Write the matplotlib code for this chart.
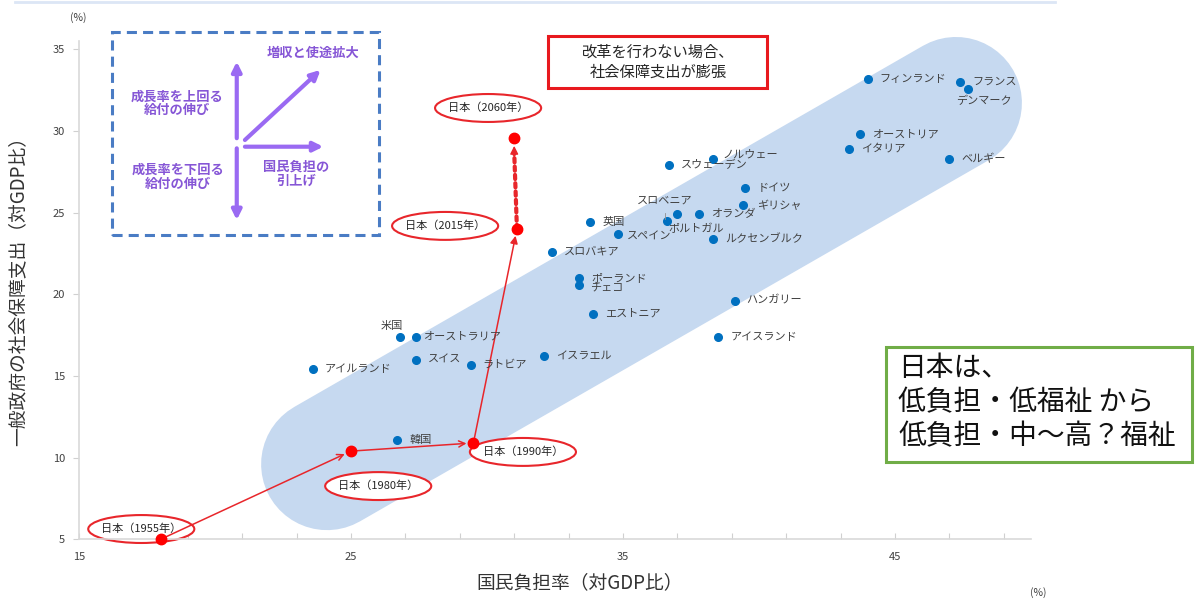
import matplotlib.pyplot as plt
from matplotlib.patches import Ellipse, Rectangle
from matplotlib.lines import Line2D

plt.rcParams['font.family'] = ['Noto Sans CJK JP', 'DejaVu Sans']

# OECD countries: national burden ratio (x) vs social security spending (y), % of GDP
countries = ['フィンランド', 'フランス', 'デンマーク', 'オーストリア', 'イタリア', 'ベルギー',
             'ノルウェー', 'スウェーデン', 'ドイツ', 'ギリシャ', 'スロベニア', 'ポルトガル',
             'オランダ', '英国', 'スペイン', 'ルクセンブルク', 'スロバキア', 'ポーランド',
             'チェコ', 'ハンガリー', 'エストニア', '米国', 'オーストラリア', 'アイスランド',
             'スイス', 'ラトビア', 'イスラエル', 'アイルランド', '韓国']
burden = [44.0, 47.4, 47.7, 43.7, 43.3, 47.0,
          38.3, 36.7, 39.5, 39.4, 36.6, 37.0,
          37.8, 33.8, 34.8, 38.3, 32.4, 33.4,
          33.4, 39.1, 33.9, 26.8, 27.4, 38.5,
          27.4, 29.4, 32.1, 23.6, 26.7]
social = [33.2, 33.0, 32.6, 29.8, 28.9, 28.3,
          28.3, 27.9, 26.5, 25.5, 24.5, 24.9,
          24.9, 24.4, 23.7, 23.4, 22.6, 21.0,
          20.6, 19.6, 18.8, 17.4, 17.4, 17.4,
          16.0, 15.7, 16.2, 15.4, 11.1]

# Japan over time
japan_years = ['1955', '1980', '1990', '2015', '2060']
japan_burden = [18.0, 25.0, 29.5, 31.1, 31.0]
japan_social = [5.0, 10.4, 10.9, 24.0, 29.6]

x_ticks = list(range(15, 51, 2))
x_labeled = [15, 25, 35, 45]
y_ticks = [5, 10, 15, 20, 25, 30, 35]

# label placement (pixels from the dot)
label_offset = {
    'デンマーク': (-12, -12, 'left'),
    'ノルウェー': (10, 4, 'left'),
    'ギリシャ': (14, -1, 'left'),
    'スロベニア': (-2, 20, 'center'),
    'ポルトガル': (-9, -15, 'left'),
    'スペイン': (9, -3, 'left'),
    'チェコ': (11, -4, 'left'),
    '米国': (-8, 11, 'center'),
    'オーストラリア': (7, 0, 'left'),
}
ellipse_center = {
    '1955': (17.29, 5.63),
    '1980': (26.0, 8.26),
    '1990': (31.32, 10.35),
    '2015': (28.46, 24.19),
    '2060': (30.04, 31.41),
}

red = '#e8262b'
blue = '#0070c0'
purple = '#9a6af2'
purple_text = '#8656d6'

fig = plt.figure(figsize=(11.95, 6.04), dpi=100)
ax = fig.add_axes([0.0661, 0.1071, 0.7967, 0.8247])
ax.set_xlim(15, 50)
ax.set_ylim(5, 35.5)

for side in ['top', 'right']:
    ax.spines[side].set_visible(False)
for side in ['left', 'bottom']:
    ax.spines[side].set_color('#d9d9d9')
    ax.spines[side].set_linewidth(1.2)

ax.set_xticks(x_ticks)
ax.set_xticklabels([str(t) if t in x_labeled else '' for t in x_ticks])
ax.set_yticks(y_ticks)
ax.tick_params(axis='x', direction='in', length=4, color='#d0d0d0',
               labelsize=8, labelcolor='#404040', pad=9)
ax.tick_params(axis='y', direction='out', length=4, color='#d0d0d0',
               labelsize=8, labelcolor='#404040', pad=6)

# shaded band along the trend
ax.plot([24.12, 47.24], [9.6, 31.72], lw=95, color='#c6d9f0',
        solid_capstyle='round', zorder=0, clip_on=False)

# country dots and names
ax.plot(burden, social, 'o', ms=5.5, color=blue, zorder=4)
for name, x, y in zip(countries, burden, social):
    dx, dy, ha = label_offset.get(name, (12, 0, 'left'))
    ax.annotate(name, (x, y), xytext=(dx, dy), textcoords='offset pixels',
                ha=ha, va='center', fontsize=8, color='#404040', zorder=5)
ax.plot([36.53, 36.53], [24.6, 24.95], color='#909090', lw=0.6, zorder=4)

# Japan path
for yr in japan_years:
    cx, cy = ellipse_center[yr]
    ax.add_patch(Ellipse((cx, cy), 3.9, 1.71, fc='white', ec=red, lw=1.5,
                         zorder=2, clip_on=False))
    ax.text(cx, cy, '日本（' + yr + '年）', ha='center', va='center',
            fontsize=8, color='#262626', zorder=3)

for i in range(3):
    style = '->' if i < 2 else '-|>'
    ax.annotate('', xy=(japan_burden[i + 1], japan_social[i + 1]),
                xytext=(japan_burden[i], japan_social[i]),
                arrowprops=dict(arrowstyle=style, color=red, lw=1.1,
                                shrinkA=3, shrinkB=5, mutation_scale=11),
                zorder=3)
# projection 2015 -> 2060: dotted shaft plus a solid head
ax.plot(japan_burden[3:5], [japan_social[3], japan_social[4] - 0.9],
        color=red, lw=3, ls=(0, (1, 1)), dash_capstyle='round', zorder=3)
ax.annotate('', xy=(japan_burden[4], japan_social[4]),
            xytext=(japan_burden[4], japan_social[4] - 1.2),
            arrowprops=dict(arrowstyle='-|>', color=red, lw=1,
                            shrinkA=0, shrinkB=6, mutation_scale=12),
            zorder=3)
ax.plot(japan_burden, japan_social, 'o', ms=7.5, color='#ff0000', zorder=4,
        clip_on=False)

# explanation box, top left
ax.add_patch(Rectangle((16.22, 23.63), 9.81, 12.42, fill=False, ec='#4a7cc4',
                       lw=2.2, ls=(0, (3.3, 2.0)), clip_on=False, zorder=2))
for start, end in [((20.80, 29.56), (20.80, 34.25)),
                   ((20.80, 28.94), (20.80, 24.55)),
                   ((21.10, 29.45), (23.88, 33.74)),
                   ((21.10, 29.04), (23.98, 29.04))]:
    ax.annotate('', xy=end, xytext=start,
                arrowprops=dict(arrowstyle='-|>', color=purple, lw=3,
                                shrinkA=0, shrinkB=0, mutation_scale=14),
                annotation_clip=False)
for x, y, s in [(23.61, 34.80, '増収と使途拡大'),
                (18.59, 31.70, '成長率を上回る\n給付の伸び'),
                (18.65, 27.20, '成長率を下回る\n給付の伸び'),
                (23.0, 27.41, '国民負担の\n引上げ')]:
    ax.text(x, y, s, ha='center', va='center', fontsize=9.5, fontweight='bold',
            color=purple_text, linespacing=1.0, clip_on=False)

# warning box
ax.add_patch(Rectangle((32.25, 32.62), 8.05, 3.22, fc='white', ec='#e8191e',
                       lw=2.2, clip_on=False, zorder=2))
ax.text(36.29, 34.23, '改革を行わない場合、\n社会保障支出が膨張', ha='center',
        va='center', fontsize=11, color='#262626', linespacing=1.25, zorder=3)

# axis titles and units
fig.text(580 / 1195, 1 - 583 / 604, '国民負担率（対GDP比）', ha='center',
         va='center', fontsize=13.5, color='#333333')
fig.text(18 / 1195, 1 - 286 / 604, '一般政府の社会保障支出（対GDP比）', ha='center',
         va='center', rotation=90, fontsize=13.5, color='#333333')
fig.text(78 / 1195, 1 - 18 / 604, '(%)', ha='center', va='center', fontsize=7.5,
         color='#404040')
fig.text(1038 / 1195, 1 - 593 / 604, '(%)', ha='center', va='center', fontsize=7.5,
         color='#404040')

# summary note
fig.add_artist(Rectangle((0.7414, 0.2351), 0.2561, 0.1904, transform=fig.transFigure,
                         fill=False, ec='#70ad47', lw=2.2))
fig.text(898 / 1195, 1 - 402 / 604, '日本は、\n低負担・低福祉 から\n低負担・中〜高？福祉',
         ha='left', va='center', fontsize=20, color='#111111', linespacing=1.17)

fig.add_artist(Line2D([15 / 1195, 1055 / 1195], [0.997, 0.997], color='#dce6f5', lw=2))

fig.savefig('out.png', dpi=100)
